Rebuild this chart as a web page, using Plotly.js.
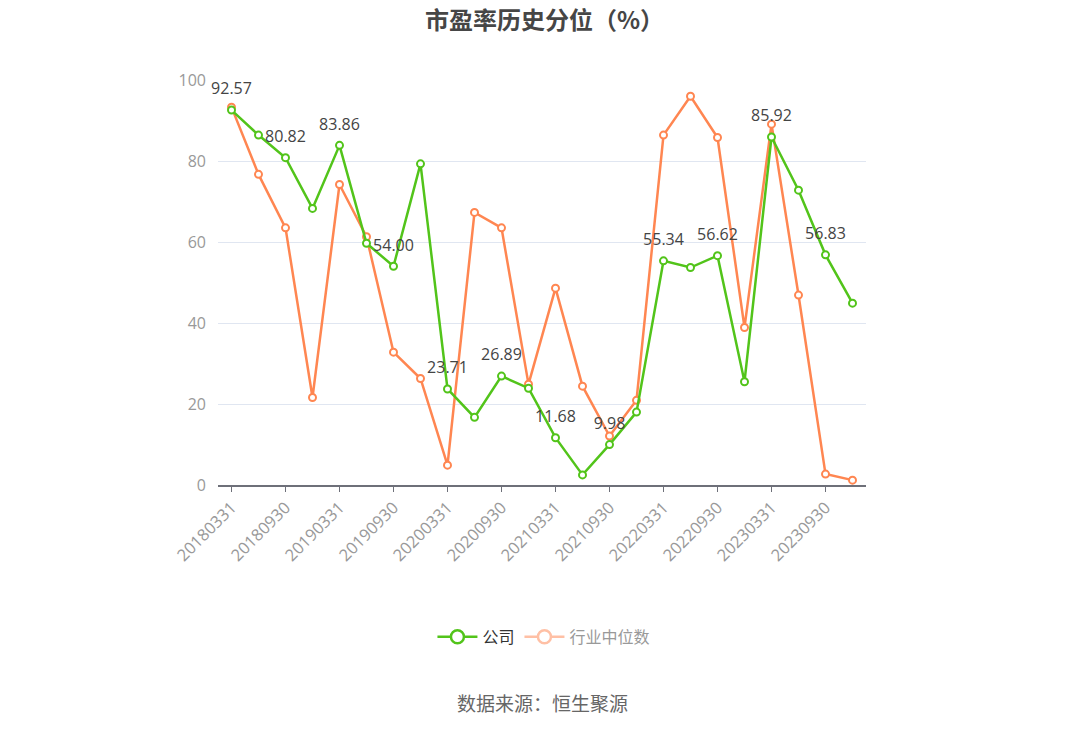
<!DOCTYPE html>
<html>
<head>
<meta charset="utf-8">
<script src="https://cdn.plot.ly/plotly-3.0.1.min.js"></script>
<style>html,body{margin:0;padding:0;background:#fff;}#chart{width:1089px;height:729px;}</style>
</head>
<body>
<div id="chart"></div>
<script>
const categories = ['20180331','20180630','20180930','20181231','20190331','20190630','20190930','20191231',
  '20200331','20200630','20200930','20201231','20210331','20210630','20210930','20211231',
  '20220331','20220630','20220930','20221231','20230331','20230630','20230930','20231231'];
const companyValues = [92.57,86.4,80.82,68.3,83.86,59.7,54.00,79.3,23.71,16.7,26.89,23.9,11.68,2.5,9.98,18.0,
  55.34,53.7,56.62,25.5,85.92,72.8,56.83,44.9];
const industryMedian = [93.3,76.7,63.5,21.6,74.2,61.3,32.8,26.3,4.9,67.3,63.5,24.9,48.6,24.4,12.1,20.9,
  86.4,96.0,85.8,38.9,89.1,46.9,2.7,1.2];
const tickLabels = ['20180331','20180930','20190331','20190930','20200331','20200930','20210331','20210930',
  '20220331','20220930','20230331','20230930'];
const yTicks = [0,20,40,60,80,100];

const labelText = companyValues.map((v,i)=> i%2===0 ? v.toFixed(2) : '');

const green = '#52C41A';
const orange = '#FF8651';
const font = '"Noto Sans CJK SC", "Microsoft YaHei", sans-serif';
const numFont = '"Open Sans", "Noto Sans CJK SC", sans-serif';

const traces = [
  {
    x: categories, y: industryMedian, type:'scatter', mode:'lines+markers',
    line:{color:orange, width:2.5}, marker:{symbol:'circle', size:7, color:'#fff', line:{color:orange,width:2}},
    showlegend:false, hoverinfo:'skip', cliponaxis:false
  },
  {
    x: categories, y: companyValues, type:'scatter', mode:'lines+markers',
    line:{color:green, width:2.5}, marker:{symbol:'circle', size:7, color:'#fff', line:{color:green,width:2}},
    showlegend:false, hoverinfo:'skip', cliponaxis:false
  },
  {
    x: categories, y: companyValues, type:'scatter', mode:'markers+text',
    text: labelText, textposition:'top center', textfont:{size:16, color:'#444', family:numFont},
    marker:{size:17, color:'rgba(0,0,0,0)', line:{width:0}},
    showlegend:false, hoverinfo:'skip', cliponaxis:false
  },
  {
    x:[null], y:[null], type:'scatter', mode:'lines+markers', name:'公司',
    line:{color:green, width:2.5}, marker:{symbol:'circle', size:13, color:'#fff', line:{color:green,width:2.5}}
  },
  {
    x:[null], y:[null], type:'scatter', mode:'lines+markers', name:'<span style="color:#999">行业中位数</span>',
    line:{color:'#FFC0A5', width:2.5}, marker:{symbol:'circle', size:13, color:'#fff', line:{color:'#FFC0A5',width:2.5}}
  }
];

const layout = {
  width:1089, height:729,
  margin:{l:218, r:223, t:80, b:244},
  paper_bgcolor:'#fff', plot_bgcolor:'#fff',
  font:{family:font, color:'#333'},
  title:{text:'<b>市盈率历史分位（%）</b>', x:0.5, xanchor:'center', y:0.972, yref:'container', yanchor:'middle',
    font:{size:24, color:'#464646', family:font}},
  xaxis:{
    type:'category', categoryorder:'array', categoryarray:categories,
    range:[-0.5, categories.length-0.5],
    tickvals:tickLabels, ticktext:tickLabels, tickangle:-45,
    ticks:'outside', ticklen:5, tickcolor:'#6E7079', tickwidth:1,
    showline:true, linecolor:'#6E7079', linewidth:1.5,
    showgrid:false, zeroline:false,
    tickfont:{size:16.5, color:'#999', family:numFont}
  },
  yaxis:{
    range:[0,100], tickvals:yTicks, ticks:'', showline:false,
    gridcolor:'#E0E6F1', gridwidth:1, zeroline:false,
    tickfont:{size:16, color:'#999', family:numFont}, ticklabelstandoff:11
  },
  legend:{orientation:'h', x:0.503, xanchor:'center', y:-0.375, yanchor:'middle',
    font:{size:16, color:'#333', family:font}, itemsizing:'trace', itemwidth:40, tracegroupgap:0},
  annotations:[{
    text:'数据来源：恒生聚源', xref:'paper', yref:'paper', x:0.5, y:-0.536, xanchor:'center', yanchor:'middle',
    showarrow:false, font:{size:19, color:'#666', family:font}
  }]
};

Plotly.newPlot('chart', traces, layout, {displayModeBar:false, staticPlot:true});
</script>
</body>
</html>
